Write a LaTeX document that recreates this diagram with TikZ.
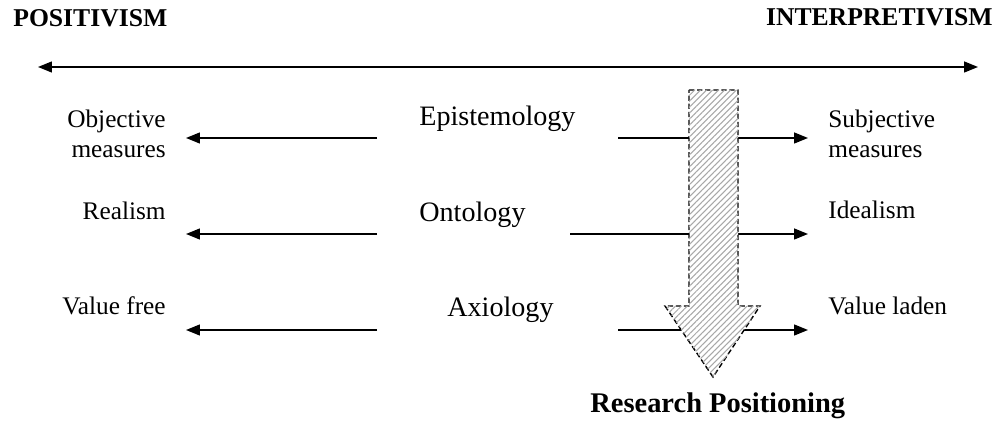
\documentclass[tikz,border=0pt]{standalone}
\usepackage{fontspec}
\setmainfont{Liberation Serif}
\usepackage{tikz}
\usetikzlibrary{arrows.meta, positioning, calc, patterns.meta}
\tikzset{
  every node/.style={inner sep=0pt},
  pole/.style={font=\fontsize{14.6}{16}\selectfont\bfseries},
  dimlabel/.style={font=\fontsize{16}{18}\selectfont},
  endlabel/.style={font=\fontsize{14.4}{16.8}\selectfont},
  tip/.style={-{Triangle[length=0.28cm, width=0.22cm]}, line width=0.8pt},
}
\definecolor{hatchgray}{HTML}{A8A8A8}

\begin{document}
\begin{tikzpicture}[x=0.02cm, y=-0.02cm]
    \useasboundingbox (0,0) rectangle (997,421);
    % poles
    \node[pole, anchor=base west] (posit) at (13,27) {POSITIVISM};
    \node[pole, anchor=base east] (interp) at (993,26) {INTERPRETIVISM};
    \coordinate (pL) at (38,67);
    \coordinate (pR) at (978,67);
    \draw[{Triangle[length=0.28cm, width=0.22cm]}-{Triangle[length=0.28cm, width=0.22cm]}, line width=0.8pt] (pL) -- (pR);
    % dimensions
    \node[dimlabel, anchor=base west] (epist) at (419,126) {Epistemology};
    \node[dimlabel, anchor=base west] (onto) at (419,222) {Ontology};
    \node[dimlabel, anchor=base west] (axio) at (447,317) {Axiology};
    % ends, positivist side
    \node[endlabel, anchor=east, align=right] (objm) at (166,134) {Objective\\measures};
    \node[endlabel, anchor=base east] (realism) at (166,220) {Realism};
    \node[endlabel, anchor=base east] (valfree) at (166,315) {Value free};
    % ends, interpretivist side
    \node[endlabel, anchor=west, align=left] (subjm) at (828,134) {Subjective\\measures};
    \node[endlabel, anchor=base west] (idealism) at (828,219) {Idealism};
    \node[endlabel, anchor=base west] (valladen) at (828,315) {Value laden};
    % arrow ends
    \coordinate (eL) at (377,138);  \coordinate (eLt) at (186,138);
    \coordinate (oL) at (377,234);  \coordinate (oLt) at (186,234);
    \coordinate (aL) at (377,330);  \coordinate (aLt) at (186,330);
    \coordinate (eR) at (618,138);  \coordinate (eRt) at (808,138);
    \coordinate (oR) at (570,234);  \coordinate (oRt) at (808,234);
    \coordinate (aR) at (618,330);  \coordinate (aRt) at (808,330);
    \foreach \s/\t in {eL/eLt, oL/oLt, aL/aLt, eR/eRt, oR/oRt, aR/aRt}
      \draw[tip] (\s) -- (\t);
    % research positioning arrow
    \draw[line width=0.8pt, dash pattern=on 3pt off 1.6pt, fill=white,
          postaction={pattern={Lines[angle=45, distance=2.4pt, line width=0.6pt]}, pattern color=hatchgray}]
      (689,90) -- (738,90) -- (738,306) -- (760,306) -- (713,377)
      -- (665,306) -- (689,306) -- cycle;
    \node[pole, font=\fontsize{16.2}{18}\selectfont\bfseries, anchor=base west] (research) at (590,413) {Research Positioning};
  \end{tikzpicture}
\end{document}
